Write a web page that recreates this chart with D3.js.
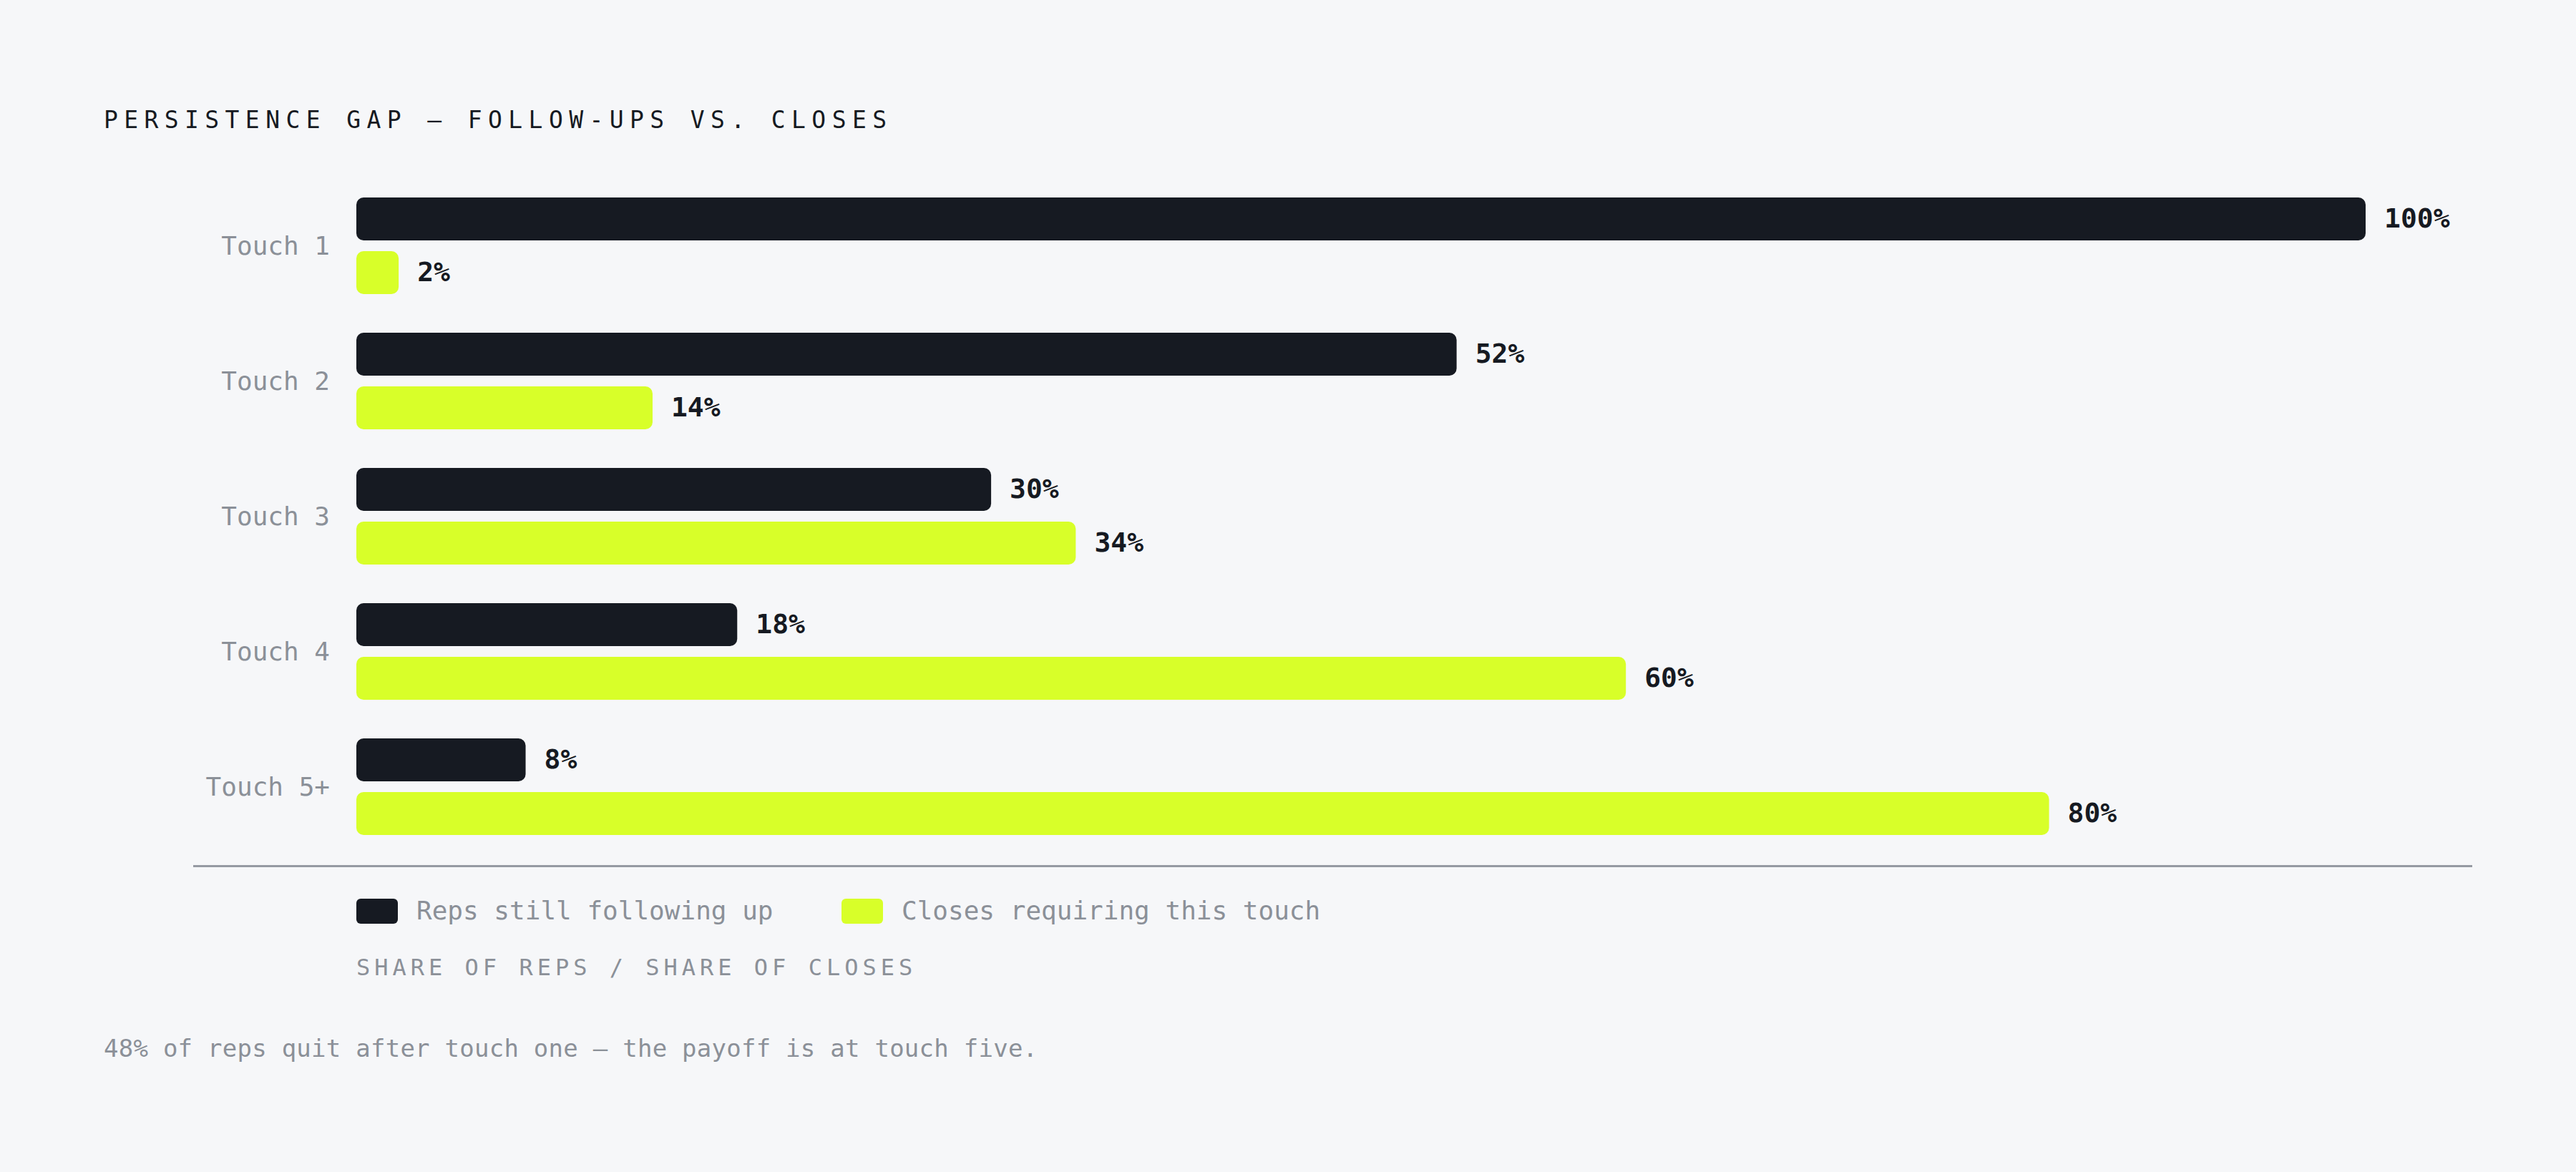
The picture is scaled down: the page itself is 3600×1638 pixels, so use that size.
<!DOCTYPE html>
<html>
<head>
<meta charset="utf-8">
<script src="https://cdn.jsdelivr.net/npm/d3@7"></script>
<style>
  html, body { margin: 0; padding: 0; background: #f6f7f9; }
  svg { display: block; }
</style>
</head>
<body>
<div id="chart"></div>
<script>
const touches = ["Touch 1", "Touch 2", "Touch 3", "Touch 4", "Touch 5+"];
const repsFollowing = [100, 52, 30, 18, 8];
const closesRequiring = [2, 14, 34, 60, 80];
const seriesKeys = ["reps", "closes"];
const seriesNames = ["Reps still following up", "Closes requiring this touch"];

const width = 3600;
const height = 1638;
const mono = "'DejaVu Sans Mono', 'Liberation Mono', monospace";
const ink = "#161a22";
const lime = "#d8ff29";
const grey = "#8b9098";

const rows = touches.map((t, i) => ({
  touch: t,
  reps: repsFollowing[i],
  closes: closesRequiring[i],
}));

const svg = d3
  .select("#chart")
  .append("svg")
  .attr("width", width)
  .attr("height", height);

svg.append("rect").attr("width", width).attr("height", height).attr("fill", "#f6f7f9");

// title
svg
  .append("text")
  .attr("x", 145)
  .attr("y", 179)
  .attr("font-family", mono)
  .attr("font-size", 33)
  .attr("letter-spacing", "8.4px")
  .attr("fill", ink)
  .text("PERSISTENCE GAP — FOLLOW-UPS VS. CLOSES");

const x = d3.scaleLinear().domain([0, 100]).range([498, 3455]);
// leave room for the value label on the longest bar
const maxBarEnd = x.range()[1] - 149;

const y = d3
  .scaleBand()
  .domain(touches)
  .range([249, 1194])
  .paddingInner(54 / 189)
  .paddingOuter(27 / 189);

const ySub = d3
  .scaleBand()
  .domain(seriesKeys)
  .range([0, y.bandwidth()])
  .paddingInner(0.2);

const color = d3.scaleOrdinal().domain(seriesKeys).range([ink, lime]);

// category labels
svg
  .append("g")
  .selectAll("text")
  .data(rows)
  .join("text")
  .attr("x", 461)
  .attr("y", (d) => y(d.touch) + y.bandwidth() / 2)
  .attr("dy", "0.34em")
  .attr("text-anchor", "end")
  .attr("font-family", mono)
  .attr("font-size", 36)
  .attr("fill", grey)
  .text((d) => d.touch);

const groups = svg
  .append("g")
  .selectAll("g")
  .data(rows)
  .join("g")
  .attr("transform", (d) => `translate(0,${y(d.touch)})`);

const bars = groups
  .selectAll("g")
  .data((d) => seriesKeys.map((k) => ({ key: k, value: d[k] })))
  .join("g");

const barEnd = (v) => Math.min(x(v), maxBarEnd);

bars
  .append("rect")
  .attr("x", x(0))
  .attr("y", (d) => ySub(d.key))
  .attr("width", (d) => barEnd(d.value) - x(0))
  .attr("height", ySub.bandwidth())
  .attr("rx", 10)
  .attr("fill", (d) => color(d.key));

bars
  .append("text")
  .attr("x", (d) => barEnd(d.value) + 26)
  .attr("y", (d) => ySub(d.key) + ySub.bandwidth() / 2)
  .attr("dy", "0.32em")
  .attr("font-family", mono)
  .attr("font-weight", "bold")
  .attr("font-size", 38)
  .attr("fill", ink)
  .text((d) => d.value + "%");

// baseline rule
svg
  .append("line")
  .attr("x1", 270)
  .attr("x2", x.range()[1])
  .attr("y1", 1210.5)
  .attr("y2", 1210.5)
  .attr("stroke", "#959aa2")
  .attr("stroke-width", 3);

// legend
const legendX = [498, 1176];
const legend = svg
  .append("g")
  .selectAll("g")
  .data(seriesKeys)
  .join("g")
  .attr("transform", (d, i) => `translate(${legendX[i]},1256)`);

legend
  .append("rect")
  .attr("width", 58)
  .attr("height", 35)
  .attr("rx", 6)
  .attr("fill", (d) => color(d));

legend
  .append("text")
  .attr("x", 84)
  .attr("y", 29)
  .attr("font-family", mono)
  .attr("font-size", 36)
  .attr("fill", grey)
  .text((d, i) => seriesNames[i]);

svg
  .append("text")
  .attr("x", 498)
  .attr("y", 1363)
  .attr("font-family", mono)
  .attr("font-size", 32)
  .attr("letter-spacing", "6px")
  .attr("fill", grey)
  .text("SHARE OF REPS / SHARE OF CLOSES");

svg
  .append("text")
  .attr("x", 145)
  .attr("y", 1477)
  .attr("font-family", mono)
  .attr("font-size", 34)
  .attr("letter-spacing", "0.25px")
  .attr("fill", grey)
  .text("48% of reps quit after touch one — the payoff is at touch five.");
</script>
</body>
</html>
